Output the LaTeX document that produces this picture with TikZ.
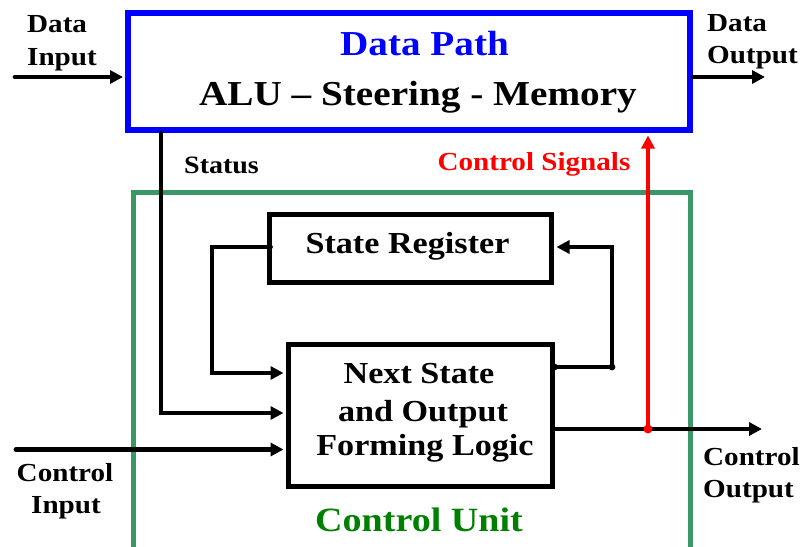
\documentclass[tikz,border=0pt]{standalone}
\usepackage{fontspec}
\setmainfont{Liberation Serif}[FakeStretch=1.12]
\usetikzlibrary{arrows.meta}
\definecolor{dpblue}{RGB}{0,0,255}
\definecolor{cuframe}{RGB}{58,152,104}
\definecolor{cutext}{RGB}{0,128,0}
\definecolor{sigred}{RGB}{255,0,0}
\begin{document}
\begin{tikzpicture}[x=1pt,y=-1pt,
  box/.style={draw=black,line width=5pt,rectangle,inner sep=0pt,fill=none},
  wire/.style={draw=black,line width=4.8pt,line cap=round,line join=miter},
  arr/.style={wire,-{Triangle[length=13pt,width=13pt]}},
  txt/.style={inner sep=0pt,anchor=base,font=\bfseries},
  lbl/.style={inner sep=0pt,anchor=base west,font=\bfseries\fontsize{26}{30}\selectfont},
]
\useasboundingbox[fill=white] (0,0) rectangle (808,546);

% boxes
\node[draw=dpblue,line width=6pt,rectangle,inner sep=0pt,minimum width=562pt,minimum height=117.5pt] (dp) at (409,71.25) {};
\node[draw=cuframe,line width=5pt,rectangle,inner sep=0pt,minimum width=556.5pt,minimum height=356.5pt] (cu) at (411.75,370.75) {};
\node[box,minimum width=282pt,minimum height=67.5pt] (sr) at (410,248.25) {};
\node[box,minimum width=264pt,minimum height=142pt] (ns) at (420,415) {};

% texts in boxes
\node[txt,text=dpblue,font=\bfseries\fontsize{35}{40}\selectfont] (dpt) at (424.5,55.7) {Data Path};
\node[txt,font=\bfseries\fontsize{35}{40}\selectfont] (alu) at (418,105) {ALU – Steering - Memory};
\node[txt,font=\bfseries\fontsize{30.5}{34}\selectfont] (srt) at (407.5,253.3) {State Register};
\node[txt,font=\bfseries\fontsize{30.5}{34}\selectfont] (ns1) at (419,383.3) {Next State};
\node[txt,font=\bfseries\fontsize{30.5}{34}\selectfont] (ns2) at (423,421) {and Output};
\node[txt,font=\bfseries\fontsize{30.5}{34}\selectfont] (ns3) at (425,455) {Forming Logic};
\node[txt,text=cutext,font=\bfseries\fontsize{34}{38}\selectfont] (cut) at (419,531.7) {Control Unit};

% outer labels
\node[lbl] (din1) at (27,32) {Data};
\node[lbl] (din2) at (27,65) {Input};
\node[lbl] (dout1) at (707,31.7) {Data};
\node[lbl] (dout2) at (707,63.3) {Output};
\node[txt,font=\bfseries\fontsize{26}{30}\selectfont] (cin1) at (65,481.7) {Control};
\node[txt,font=\bfseries\fontsize{26}{30}\selectfont] (cin2) at (66,513) {Input};
\node[lbl] (cout1) at (703,465) {Control};
\node[lbl] (cout2) at (703,497) {Output};
\node[lbl,font=\bfseries\fontsize{25}{30}\selectfont] (stl) at (184,173) {Status};
\node[txt,text=sigred,font=\bfseries\fontsize{26}{30}\selectfont] (csl) at (534,170) {Control Signals};

% coordinates
\coordinate (di) at (15,77);
\coordinate (do) at (765,77);
\coordinate (st) at (161,413);
\coordinate (fl1) at (212,247);
\coordinate (fl2) at (212,373);
\coordinate (fr1) at (612,367);
\coordinate (fr2) at (612,247);
\coordinate (ci) at (16,449.5);
\coordinate (co) at (762,429);
\coordinate (rj) at (648,429);

% connectors
\draw[arr] (di) -- ([xshift=-2pt]di -| dp.west);
\draw[arr] (do -| dp.east) -- (do);
\draw[arr] (dp.south -| st) -- (st) -- ([xshift=-2pt]st -| ns.west);
\draw[arr] ([xshift=4pt]fl1 -| sr.west) -- (fl1) -- (fl2) -- ([xshift=-2pt]fl2 -| ns.west);
\draw[arr] (fr1 -| ns.east) -- (fr1) -- (fr2) -- ([xshift=3pt]fr2 -| sr.east);
\draw[arr] (ci) -- ([xshift=-2pt]ci -| ns.west);
\draw[arr] (co -| ns.east) -- (co);
\fill (fr1) circle (3.4pt);
\fill (fr1 -| ns.east) circle (3.4pt);
\draw[sigred,line width=4pt,-{Triangle[length=13pt,width=13pt]}] (rj) -- ([yshift=-2.5pt]rj |- dp.south);
\fill[sigred] (rj) circle (4.5pt);
\end{tikzpicture}
\end{document}
